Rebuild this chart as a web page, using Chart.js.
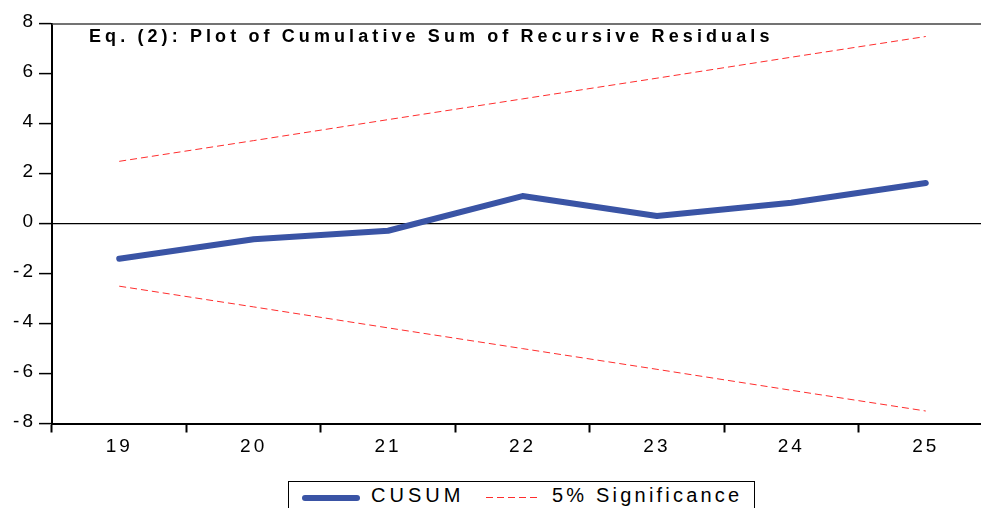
<!DOCTYPE html>
<html>
<head>
<meta charset="utf-8">
<script src="https://cdn.jsdelivr.net/npm/chart.js@4/dist/chart.umd.min.js"></script>
<style>
    html, body {
        margin: 0;
        padding: 0;
        width: 981px;
        height: 508px;
        overflow: hidden;
        background: #fff;
        font-family: "Liberation Sans", Arial, sans-serif;
    }
    #wrap {
        position: absolute;
        left: 0;
        top: 0;
        width: 993px;
        height: 470px;
    }
    #chartTitle {
        position: absolute;
        left: 89px;
        top: 27px;
        font-weight: bold;
        font-size: 18px;
        line-height: 18px;
        letter-spacing: 4.1px;
        word-spacing: -1px;
        white-space: nowrap;
        color: #000;
    }
    #legendBox {
        position: absolute;
        left: 288px;
        top: 481px;
        width: 465px;
        height: 40px;
        border: 1px solid #000;
        background: #fff;
    }
    .legend-sample, .legend-text {
        position: absolute;
    }
    .legend-text {
        font-size: 20px;
        line-height: 20px;
        white-space: nowrap;
        color: #000;
    }
</style>
</head>
<body>
<div id="wrap"><canvas id="cusumChart"></canvas></div>
<div id="chartTitle">Eq. (2): Plot of Cumulative Sum of Recursive Residuals</div>
<div id="legendBox"></div>
<script>
// Observations (last two digits of the year)
const years = ['19', '20', '21', '22', '23', '24', '25'];

// CUSUM of recursive residuals
const cusum = [-1.40, -0.62, -0.28, 1.11, 0.31, 0.84, 1.63];

// 5% significance bounds
const upperBound = [2.50, 3.33, 4.17, 5.00, 5.83, 6.67, 7.50];
const lowerBound = [-2.50, -3.33, -4.17, -5.00, -5.83, -6.67, -7.50];

// Y axis range
const yMin = -8;
const yMax = 8;
const yStep = 2;

const blue = 'rgb(58, 84, 165)';
const red = 'rgb(255, 45, 45)';
const tickFont = { family: '"Liberation Sans", Arial, sans-serif', size: 19 };

// EViews-like wide letter spacing on canvas text
const spacingPlugin = {
    id: 'spacing',
    beforeLayout(chart) { chart.ctx.letterSpacing = '3px'; },
    beforeDraw(chart) { chart.ctx.letterSpacing = '3px'; }
};

// Top frame line of the plot box
const framePlugin = {
    id: 'frame',
    afterDraw(chart) {
        const { ctx, chartArea } = chart;
        ctx.save();
        ctx.strokeStyle = '#444';
        ctx.lineWidth = 1.5;
        ctx.beginPath();
        ctx.moveTo(chartArea.left, chartArea.top);
        ctx.lineTo(chartArea.right, chartArea.top);
        ctx.stroke();
        ctx.restore();
    }
};

const ctx = document.getElementById('cusumChart').getContext('2d');
const cusumChart = new Chart(ctx, {
    type: 'line',
    data: {
        labels: years,
        datasets: [
            {
                label: '5% Significance',
                data: upperBound,
                borderColor: red,
                borderWidth: 1,
                borderDash: [7, 4],
                pointRadius: 0,
                fill: false,
                order: 2
            },
            {
                label: '5% Significance',
                data: lowerBound,
                borderColor: red,
                borderWidth: 1,
                borderDash: [7, 4],
                pointRadius: 0,
                fill: false,
                order: 2
            },
            {
                label: 'CUSUM',
                data: cusum,
                borderColor: blue,
                borderWidth: 6,
                borderCapStyle: 'round',
                borderJoinStyle: 'round',
                pointRadius: 0,
                fill: false,
                order: 1
            }
        ]
    },
    options: {
        responsive: true,
        maintainAspectRatio: false,
        animation: false,
        layout: { padding: { top: 24, left: 0, right: 0, bottom: 0 } },
        plugins: {
            legend: { display: false },
            title: { display: false },
            tooltip: { enabled: false }
        },
        scales: {
            x: {
                offset: true,
                grid: {
                    offset: true,
                    drawOnChartArea: false,
                    tickLength: 9,
                    tickColor: '#000',
                    tickWidth: 2
                },
                border: { color: '#000', width: 2 },
                ticks: {
                    color: '#000',
                    font: tickFont,
                    padding: 3,
                    maxRotation: 0
                },
                afterFit(scale) { scale.height = 46.5; }
            },
            y: {
                min: yMin,
                max: yMax,
                grid: {
                    color: c => (c.tick && c.tick.value === 0 ? '#000' : 'rgba(0,0,0,0)'),
                    lineWidth: 1.2,
                    tickLength: 13,
                    tickColor: '#000',
                    tickWidth: 1.5
                },
                border: { color: '#000', width: 2 },
                ticks: {
                    stepSize: yStep,
                    color: '#000',
                    font: tickFont,
                    padding: 3,
                    labelOffset: -2
                },
                afterFit(scale) { scale.width = 52; }
            }
        }
    },
    plugins: [spacingPlugin, framePlugin]
});

// Legend built from the chart's datasets (one entry per label)
function buildLegend(chart) {
    const box = document.getElementById('legendBox');
    const layout = {
        'CUSUM': { sample: { left: 13, top: 13, width: 58 }, text: 82, spacing: 4 },
        '5% Significance': { sample: { left: 197, top: 15, width: 53 }, text: 263, spacing: 3.2 }
    };
    const seen = {};
    const items = chart.data.datasets.slice().sort((a, b) => a.order - b.order);
    items.forEach(ds => {
        if (seen[ds.label]) return;
        seen[ds.label] = true;
        const pos = layout[ds.label];
        const sample = document.createElement('div');
        sample.className = 'legend-sample';
        sample.style.left = pos.sample.left + 'px';
        sample.style.top = pos.sample.top + 'px';
        sample.style.width = pos.sample.width + 'px';
        sample.style.height = ds.borderWidth + 'px';
        if (ds.borderDash) {
            sample.style.background = `repeating-linear-gradient(to right, ${ds.borderColor} 0 7px, transparent 7px 11px)`;
        } else {
            sample.style.borderRadius = (ds.borderWidth / 2) + 'px';
            sample.style.background = ds.borderColor;
        }
        box.appendChild(sample);

        const text = document.createElement('div');
        text.className = 'legend-text';
        text.style.left = pos.text + 'px';
        text.style.top = '3px';
        text.style.letterSpacing = pos.spacing + 'px';
        text.textContent = ds.label;
        box.appendChild(text);
    });
}
buildLegend(cusumChart);
</script>
</body>
</html>
